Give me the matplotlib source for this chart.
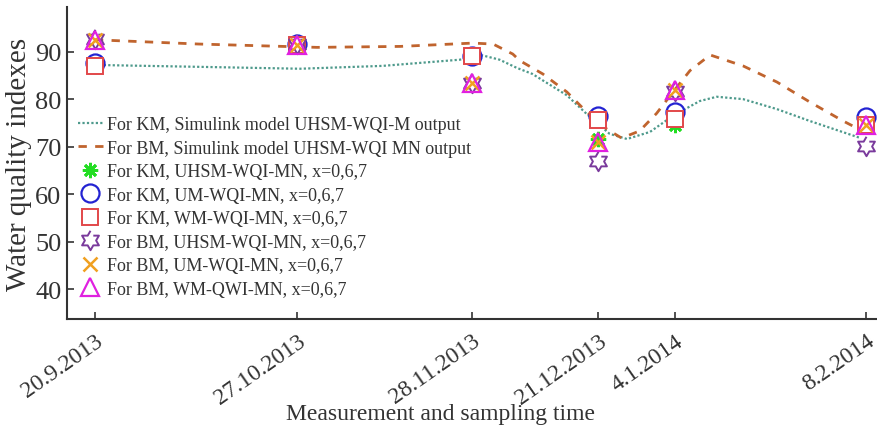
import numpy as np
import pandas as pd
import matplotlib
matplotlib.use('Agg')
import matplotlib.pyplot as plt

plt.rcParams['font.family'] = ['Liberation Serif', 'DejaVu Serif']

# sampling dates (x axis) and their tick labels
dates = ['20.9.2013', '27.10.2013', '28.11.2013', '21.12.2013', '4.1.2014', '8.2.2014']
days = (pd.to_datetime(dates, format='%d.%m.%Y') - pd.to_datetime(dates[0], format='%d.%m.%Y')).days.values

# measured indexes at the sampling dates
km_uhsm = [87.0, 91.5, 89.0, 71.5, 74.5, 74.5]
km_um = [87.6, 91.6, 89.0, 76.5, 77.3, 76.2]
km_wm = [87.0, 91.5, 89.0, 75.5, 75.8, 74.5]
bm_uhsm = [92.6, 91.6, 83.3, 67.0, 81.8, 70.1]
bm_um = [92.5, 91.5, 83.5, 71.0, 82.0, 74.5]
bm_wm = [92.5, 91.5, 83.5, 71.0, 82.0, 74.5]

# simulink model outputs (day offset, index)
km_sim_day = [0, 19, 37.5, 52.6, 66.7, 70.9, 74, 77.1, 80, 86.3, 89.9, 94.1, 97.3,
              101.5, 105.7, 110.6, 113.7, 118.5, 124.7, 130.7, 140]
km_sim_val = [87.2, 86.8, 86.4, 87.0, 88.3, 89.2, 88.3, 86.6, 85.3, 80.8, 76.9, 72.7, 71.6,
              73.1, 76.5, 79.6, 80.5, 80.0, 77.9, 75.4, 71.8]
bm_sim_day = [0, 19, 40.6, 55.8, 69.1, 72.8, 76.4, 77.7, 81.9, 86.3, 89.9, 93.6, 96.3,
              99.6, 102.7, 105.7, 108.8, 112.5, 118.5, 124.7, 130.7, 136.8, 140]
bm_sim_val = [92.5, 91.6, 90.9, 91.1, 91.8, 91.6, 89.5, 88.1, 85.3, 81.5, 77.3, 73.7, 71.8,
              73.3, 77.0, 81.5, 86.0, 89.3, 87.0, 83.6, 79.4, 75.4, 73.5]

# hollow six-pointed star (hexagram)
ang = np.pi / 2 + np.arange(12) * np.pi / 6
rad = np.where(np.arange(12) % 2 == 0, 1.0, 0.577)
hexagram = np.column_stack([rad * np.cos(ang), rad * np.sin(ang)])

fig = plt.figure(figsize=(8.77, 4.31), dpi=100)
ax = fig.add_axes([67 / 877, 1 - 320 / 431, 810 / 877, 312 / 431])

ax.plot(km_sim_day, km_sim_val, linestyle=(0, (1, 1)), color='#4e9a8c', lw=1.6,
        label='For KM, Simulink model UHSM-WQI-M output')
ax.plot(bm_sim_day, bm_sim_val, linestyle=(0, (3, 3)), color='#c0642e', lw=2.0,
        label='For BM, Simulink model UHSM-WQI MN output')

ms = 13
ax.plot(days, km_uhsm, ls='none', marker=(8, 2, 0), ms=ms - 2, mec='#22dd22', mew=2.0,
        label='For KM, UHSM-WQI-MN, x=0,6,7')
ax.plot(days, km_um, ls='none', marker='o', ms=ms, mfc='none', mec='#2323d2', mew=1.6,
        label='For KM, UM-WQI-MN, x=0,6,7')
ax.plot(days, km_wm, ls='none', marker='s', ms=ms - 1, mfc='white', mec='#e2474a', mew=1.4,
        label='For KM, WM-WQI-MN, x=0,6,7')
ax.plot(days, bm_uhsm, ls='none', marker=hexagram, ms=ms + 1, mfc='none', mec='#7a3a9c', mew=1.4,
        label='For BM, UHSM-WQI-MN, x=0,6,7')
ax.plot(days, bm_um, ls='none', marker='x', ms=ms - 3, mec='#f0a020', mew=1.8,
        label='For BM, UM-WQI-MN, x=0,6,7')
ax.plot(days, bm_wm, ls='none', marker='^', ms=ms, mfc='none', mec='#e020e0', mew=1.6,
        label='For BM, WM-QWI-MN, x=0,6,7')

ax.set_xlim(-5.1, 143)
ax.set_ylim(33.7, 99.4)
ax.set_yticks([40, 50, 60, 70, 80, 90])
ax.set_xticks(days)
ax.set_xticklabels(dates, rotation=35, ha='right', rotation_mode='anchor')
ax.tick_params(direction='in', length=5, width=1.2, colors='#333333', labelcolor='#333333')
ax.tick_params(axis='y', labelsize=19, pad=4)
ax.tick_params(axis='x', labelsize=17, pad=8)
for s in ['top', 'right']:
    ax.spines[s].set_visible(False)
for s in ['left', 'bottom']:
    ax.spines[s].set_linewidth(1.5)
    ax.spines[s].set_color('#333333')

ax.set_ylabel('Water quality indexes', fontsize=21, color='#333333', labelpad=2)
ax.set_xlabel('Measurement and sampling time', fontsize=17, color='#333333')
ax.xaxis.set_label_coords((440 - 67) / 810, -0.27)

ax.legend(loc='upper left', bbox_to_anchor=(0.0, 0.685), frameon=False, fontsize=13,
          handlelength=1.4, handletextpad=0.2, labelspacing=0.36, borderaxespad=0.2,
          labelcolor='#333333')

fig.savefig('out.png', dpi=100)
